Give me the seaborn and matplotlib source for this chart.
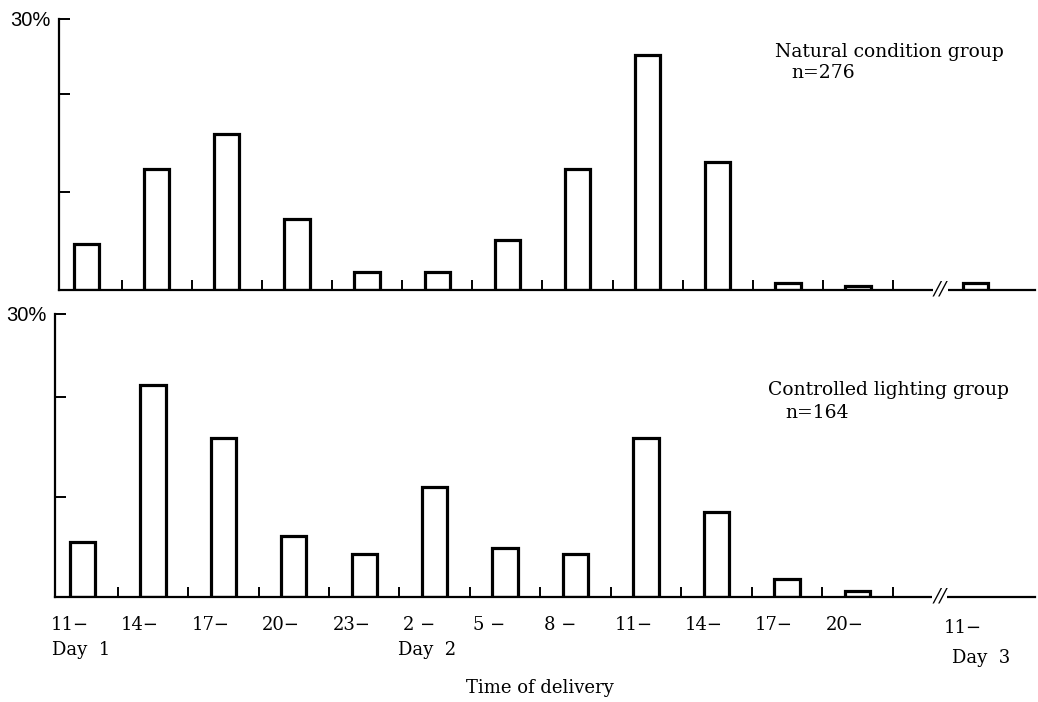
import numpy as np
import pandas as pd
import matplotlib
matplotlib.use('Agg')
import matplotlib.pyplot as plt
import matplotlib.transforms as mtransforms
import seaborn as sns

# delivery time slots (start hour), the last one is day 3 after the axis break
slot_labels = ['11−', '14−', '17−', '20−', '23−', '2 −', '5 −', '8 −',
               '11−', '14−', '17−', '20−', '11−']
slot_pos = [0, 1, 2, 3, 4, 5, 6, 7, 8, 9, 10, 11, 12.67]

# percent of deliveries per slot
natural_pct = [4.7, 12.3, 15.9, 7.2, 1.8, 1.8, 5.1, 12.3, 23.9, 13.0, 0.7, 0.4, 0.7]
controlled_pct = [5.5, 21.3, 15.9, 6.1, 4.3, 11.0, 4.9, 4.3, 15.9, 8.5, 1.8, 0.6, 0.0]

day_labels = ['Day  1', 'Day  2', 'Day  3']
day_pos = [-0.43, 4.48, 12.34]

sns.set_theme(style='white')
plt.rcParams['font.family'] = ['DejaVu Serif']
plt.rcParams['text.color'] = 'black'
plt.rcParams['ytick.labelcolor'] = 'black'

fig = plt.figure(figsize=(10.38, 7.02), dpi=100)
ax1 = fig.add_axes([0.057, 0.587, 0.940, 0.386])
ax2 = fig.add_axes([0.053, 0.150, 0.944, 0.403])

panels = [(ax1, natural_pct, 27.6), (ax2, controlled_pct, 28.4)]

for ax, pct, ytop in panels:
    ax.set_facecolor('none')
    df = pd.DataFrame({'pos': slot_pos, 'pct': pct})
    df = df[df['pct'] > 0]
    sns.barplot(data=df, x='pos', y='pct', native_scale=True, width=0.36,
                color='white', edgecolor='black', linewidth=2.3,
                errorbar=None, ax=ax)
    ax.set_xlim(-0.39, 13.52)
    ax.set_ylim(0, ytop)
    ax.set_xlabel('')
    ax.set_ylabel('')
    sns.despine(ax=ax)
    for s in ['left', 'bottom']:
        ax.spines[s].set_linewidth(1.6)
        ax.spines[s].set_color('black')

    # ticks at the slot boundaries
    ax.set_xticks([p + 0.5 for p in range(12)])
    ax.tick_params(axis='x', direction='in', length=7, width=1.4,
                   color='black', labelbottom=False, bottom=True)
    ax.set_yticks([10, 20, ytop])
    ax.set_yticklabels(['', '', '30%'], family=['Liberation Sans'])
    ax.tick_params(axis='y', direction='in', length=8, width=1.4,
                   color='black', labelcolor='black', labelsize=14.5,
                   pad=6, left=True)

    tr = mtransforms.blended_transform_factory(ax.transData, ax.transAxes)
    ax.text(12.17, 0, '//', transform=tr, ha='center', va='center',
            fontsize=14, style='italic', clip_on=False,
            bbox=dict(facecolor='white', edgecolor='none', pad=0.5))

fig.text(0.747, 0.926, 'Natural condition group', ha='left', va='center', fontsize=13.5)
fig.text(0.762, 0.896, 'n=276', ha='left', va='center', fontsize=13.5)
fig.text(0.740, 0.444, 'Controlled lighting group', ha='left', va='center', fontsize=13.5)
fig.text(0.757, 0.412, 'n=164', ha='left', va='center', fontsize=13.5)

# slot labels and day labels under the lower panel
tr2 = mtransforms.blended_transform_factory(ax2.transData, ax2.transAxes)
for p, lab in zip(slot_pos, slot_labels):
    yy = -0.10 if p < 12 else -0.11
    ax2.text(p - 0.45, yy, lab, transform=tr2, ha='left', va='center',
             fontsize=13, clip_on=False)
for p, lab in zip(day_pos, day_labels):
    yy = -0.187 if lab != 'Day  3' else -0.215
    ax2.text(p, yy, lab, transform=tr2, ha='left', va='center',
             fontsize=13, clip_on=False)

fig.text(0.52, 0.02, 'Time of delivery', ha='center', va='center', fontsize=13)

fig.savefig('out.png', dpi=100)
